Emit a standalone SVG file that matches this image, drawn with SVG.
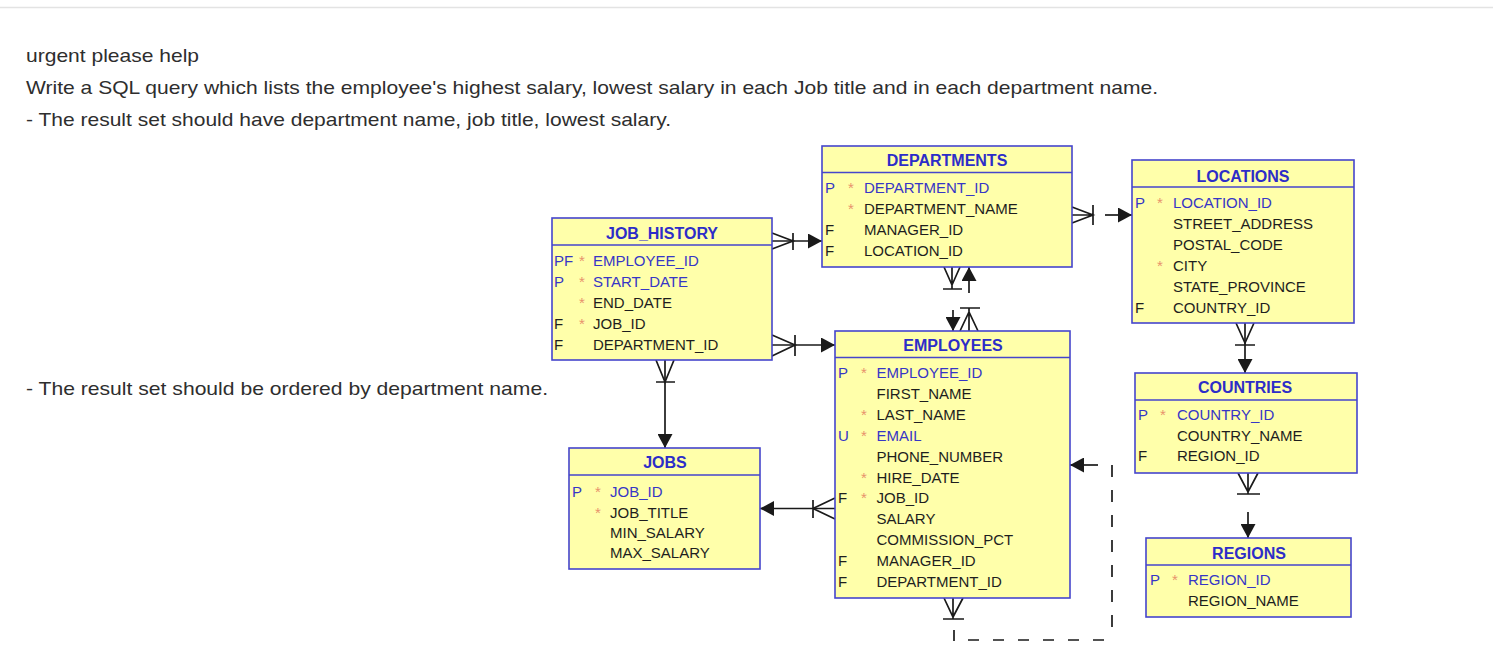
<svg xmlns="http://www.w3.org/2000/svg" width="1493" height="668" viewBox="0 0 1493 668">
<style>
.q{font-family:"Liberation Sans",Arial,sans-serif;font-size:19px;fill:#2e2e2e}
.box{fill:#ffffaa;stroke:#4545cc;stroke-width:1.6}
.sep{stroke:#4545cc;stroke-width:1.6}
.t{font-family:"Liberation Sans",Arial,sans-serif;font-size:16px;font-weight:bold;fill:#2d2dc8;text-anchor:middle}
.c{font-family:"Liberation Sans",Arial,sans-serif;font-size:15px;fill:#1e1e1e}
.k{fill:#3636c6}
.s{font-family:"Liberation Sans",Arial,sans-serif;font-size:15px;fill:#e8926c}
.ln{fill:none;stroke:#1a1a1a;stroke-width:1.7}
.ar{marker-end:url(#ah)}
.d1{stroke-dasharray:11 14}
.d2{stroke-dasharray:12 13}
</style>
<defs>
<marker id="ah" viewBox="0 0 14 15" refX="14" refY="7.5" markerWidth="14" markerHeight="15" markerUnits="userSpaceOnUse" orient="auto">
<path d="M0,0 L14,7.5 L0,15 z" fill="#1a1a1a"/>
</marker>
</defs>
<rect width="1493" height="668" fill="#ffffff"/>
<line x1="0" y1="7.5" x2="1493" y2="7.5" stroke="#e3e3e3" stroke-width="1.5"/>
<g id="question">
<text class="q" x="26" y="62" textLength="173" lengthAdjust="spacingAndGlyphs">urgent please help</text>
<text class="q" x="26" y="94" textLength="1132" lengthAdjust="spacingAndGlyphs">Write a SQL query which lists the employee's highest salary, lowest salary in each Job title and in each department name.</text>
<text class="q" x="26" y="126" textLength="645" lengthAdjust="spacingAndGlyphs">- The result set should have department name, job title, lowest salary.</text>
<text class="q" x="26" y="395" textLength="522" lengthAdjust="spacingAndGlyphs">- The result set should be ordered by department name.</text>
</g>
<g id="connectors">
<path class="ln ar" d="M772,241 H822"/>
<path class="ln" d="M772,233 L793,241 L772,249 M793,233 V250"/>
<path class="ln ar" d="M772,345 H835"/>
<path class="ln" d="M772,335 L795,345 L772,356 M795,335 V356"/>
<path class="ln ar" d="M665,360 V448"/>
<path class="ln" d="M656,360 L665,382 L674,360 M656,382 H675"/>
<path class="ln ar" d="M835,508.5 H760"/>
<path class="ln" d="M835,498 L813,508.5 L835,519 M813,500 V518"/>
<path class="ln" d="M1072,215 H1093 M1072,207 L1093,215 L1072,223 M1093,205 V225"/>
<path class="ln ar" d="M1105,215 H1132"/>
<path class="ln" d="M952,267 V289 M944,267 L952,285 L960,267 M943,289 H962"/>
<path class="ln ar" d="M953,310 V331"/>
<path class="ln ar" d="M969,293 V267"/>
<path class="ln" d="M969,331 V308 M960,308 H980 M960,331 L969,312 L978,331"/>
<path class="ln ar" d="M1245,323 V373"/>
<path class="ln" d="M1236,323 L1245,343 L1254,323 M1235,345 H1255"/>
<path class="ln" d="M1248,473 V494 M1238,473 L1248,492 L1258,473 M1237,494 H1260"/>
<path class="ln ar" d="M1248,512 V538"/>
<path class="ln" d="M953,598 V619 M944,598 L953,617 L963,598 M943,619 H964"/>
<path class="ln" d="M954,630 V641"/>
<path class="ln d1" d="M968,640 H1112"/>
<path class="ln d2" d="M1112,465 V630"/>
<path class="ln ar" d="M1098,465 H1070"/>
</g>
<g id="departments">
<rect class="box" x="822" y="146" width="250" height="121"/>
<line class="sep" x1="822" y1="172.5" x2="1072" y2="172.5"/>
<text class="t" x="947" y="166">DEPARTMENTS</text>
<text class="c k" x="825" y="193">P</text><text class="s" x="848" y="193">*</text><text class="c k" x="864" y="193">DEPARTMENT_ID</text>
<text class="s" x="848" y="214">*</text><text class="c" x="864" y="214">DEPARTMENT_NAME</text>
<text class="c" x="825" y="235">F</text><text class="c" x="864" y="235">MANAGER_ID</text>
<text class="c" x="825" y="256">F</text><text class="c" x="864" y="256">LOCATION_ID</text>
</g>
<g id="locations">
<rect class="box" x="1132" y="160" width="222" height="163"/>
<line class="sep" x1="1132" y1="187" x2="1354" y2="187"/>
<text class="t" x="1243" y="181.5">LOCATIONS</text>
<text class="c k" x="1135" y="208">P</text><text class="s" x="1157" y="208">*</text><text class="c k" x="1173" y="208">LOCATION_ID</text>
<text class="c" x="1173" y="229">STREET_ADDRESS</text>
<text class="c" x="1173" y="250">POSTAL_CODE</text>
<text class="s" x="1157" y="271">*</text><text class="c" x="1173" y="271">CITY</text>
<text class="c" x="1173" y="292">STATE_PROVINCE</text>
<text class="c" x="1135" y="313">F</text><text class="c" x="1173" y="313">COUNTRY_ID</text>
</g>
<g id="job_history">
<rect class="box" x="552" y="218" width="220" height="142"/>
<line class="sep" x1="552" y1="245" x2="772" y2="245"/>
<text class="t" x="662" y="239">JOB_HISTORY</text>
<text class="c k" x="554" y="266">PF</text><text class="s" x="579" y="266">*</text><text class="c k" x="593" y="266">EMPLOYEE_ID</text>
<text class="c k" x="554" y="287">P</text><text class="s" x="579" y="287">*</text><text class="c k" x="593" y="287">START_DATE</text>
<text class="s" x="579" y="308">*</text><text class="c" x="593" y="308">END_DATE</text>
<text class="c" x="554" y="329">F</text><text class="s" x="579" y="329">*</text><text class="c" x="593" y="329">JOB_ID</text>
<text class="c" x="554" y="350">F</text><text class="c" x="593" y="350">DEPARTMENT_ID</text>
</g>
<g id="jobs">
<rect class="box" x="569" y="448" width="191" height="121"/>
<line class="sep" x1="569" y1="475" x2="760" y2="475"/>
<text class="t" x="665" y="468">JOBS</text>
<text class="c k" x="572" y="497">P</text><text class="s" x="595" y="497">*</text><text class="c k" x="610" y="497">JOB_ID</text>
<text class="s" x="595" y="517.5">*</text><text class="c" x="610" y="517.5">JOB_TITLE</text>
<text class="c" x="610" y="538">MIN_SALARY</text>
<text class="c" x="610" y="558">MAX_SALARY</text>
</g>
<g id="employees">
<rect class="box" x="835" y="331" width="235" height="267"/>
<line class="sep" x1="835" y1="357.5" x2="1070" y2="357.5"/>
<text class="t" x="953" y="351">EMPLOYEES</text>
<text class="c k" x="838" y="378.3">P</text><text class="s" x="861" y="378.3">*</text><text class="c k" x="876.5" y="378.3">EMPLOYEE_ID</text>
<text class="c" x="876.5" y="399.1">FIRST_NAME</text>
<text class="s" x="861" y="420">*</text><text class="c" x="876.5" y="420">LAST_NAME</text>
<text class="c k" x="838" y="440.8">U</text><text class="s" x="861" y="440.8">*</text><text class="c k" x="876.5" y="440.8">EMAIL</text>
<text class="c" x="876.5" y="461.7">PHONE_NUMBER</text>
<text class="s" x="861" y="482.5">*</text><text class="c" x="876.5" y="482.5">HIRE_DATE</text>
<text class="c" x="838" y="503.3">F</text><text class="s" x="861" y="503.3">*</text><text class="c" x="876.5" y="503.3">JOB_ID</text>
<text class="c" x="876.5" y="524.2">SALARY</text>
<text class="c" x="876.5" y="545">COMMISSION_PCT</text>
<text class="c" x="838" y="565.9">F</text><text class="c" x="876.5" y="565.9">MANAGER_ID</text>
<text class="c" x="838" y="586.7">F</text><text class="c" x="876.5" y="586.7">DEPARTMENT_ID</text>
</g>
<g id="countries">
<rect class="box" x="1135" y="373" width="222" height="100"/>
<line class="sep" x1="1135" y1="400" x2="1357" y2="400"/>
<text class="t" x="1245" y="393">COUNTRIES</text>
<text class="c k" x="1138" y="420">P</text><text class="s" x="1160" y="420">*</text><text class="c k" x="1177" y="420">COUNTRY_ID</text>
<text class="c" x="1177" y="440.5">COUNTRY_NAME</text>
<text class="c" x="1138" y="461">F</text><text class="c" x="1177" y="461">REGION_ID</text>
</g>
<g id="regions">
<rect class="box" x="1146" y="538" width="205" height="79"/>
<line class="sep" x1="1146" y1="565" x2="1351" y2="565"/>
<text class="t" x="1249" y="558.5">REGIONS</text>
<text class="c k" x="1150" y="585">P</text><text class="s" x="1172" y="585">*</text><text class="c k" x="1188" y="585">REGION_ID</text>
<text class="c" x="1188" y="606">REGION_NAME</text>
</g>
</svg>
